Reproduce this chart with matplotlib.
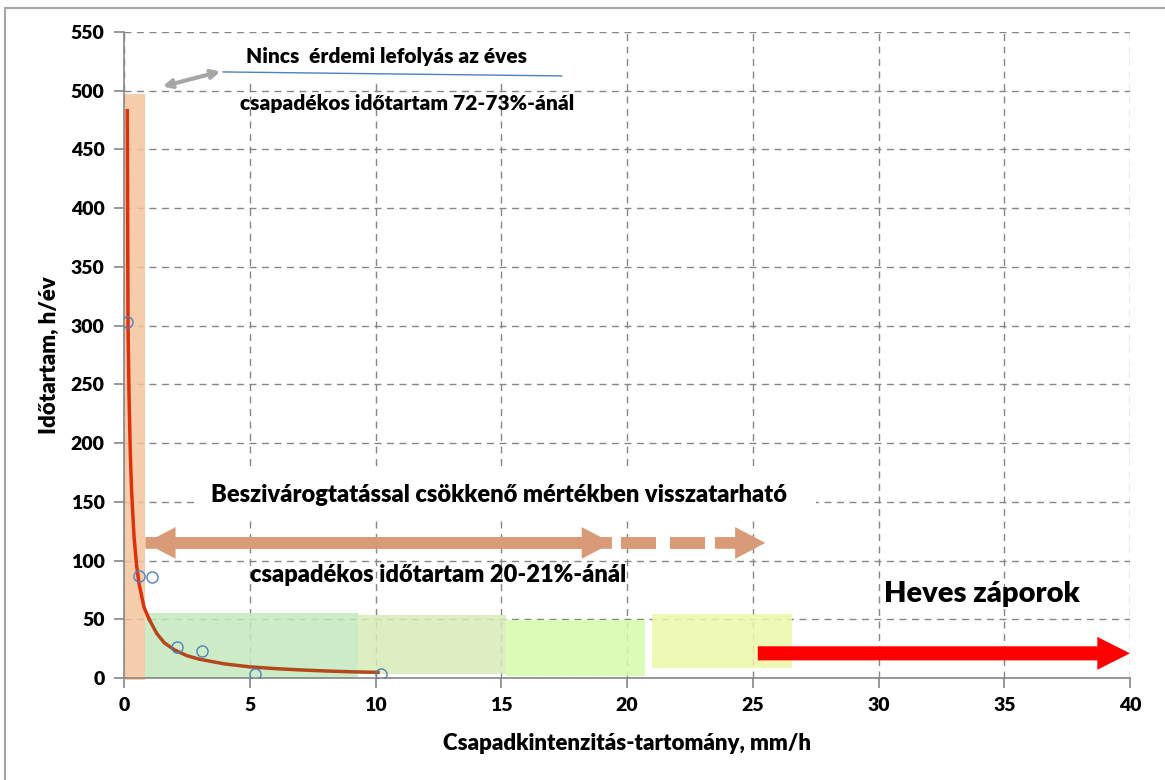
import matplotlib
matplotlib.use("Agg")
import matplotlib.pyplot as plt
from matplotlib.patches import Rectangle, FancyArrow
from matplotlib.lines import Line2D

plt.rcParams['font.family'] = ['Lato', 'DejaVu Sans']
W = 'heavy'

# trend curve (mm/h, h/year)
curve_x = [0.13, 0.16, 0.2, 0.25, 0.3, 0.4, 0.5, 0.6, 0.8, 1.0, 1.3, 1.6, 2.0, 2.5, 3.0, 4.0, 5.0, 6.0, 7.0, 8.0, 9.0, 10.1]
curve_y = [483, 300, 240, 192, 160, 120, 96, 80, 60, 50, 38, 30, 24, 19, 16, 12, 9.5, 8, 6.9, 6, 5.3, 4.8]
red_part = 10  # first points drawn red, rest brown

# measured points
pts_x = [0.12, 0.6, 1.1, 2.1, 3.1, 5.2, 10.2]
pts_y = [303, 87, 86, 26, 23, 3, 3]

# shaded bands: x0, x1, y0, y1
band_x0 = [0.0, 0.85, 9.3, 15.2, 21.0]
band_x1 = [0.85, 9.3, 15.2, 20.7, 26.55]
band_y0 = [-2, 0, 3, 2, 8.5]
band_y1 = [497, 55, 54, 49, 54.5]
band_colors = ['#f6c39d', '#c3e8be', '#d7ebb9', '#d6fbaa', '#ebf8aa']

xticks = list(range(0, 45, 5))
yticks = list(range(0, 600, 50))

fig = plt.figure(figsize=(11.65, 7.8), dpi=100)
ax = fig.add_axes([124 / 1165, 1 - 678 / 780, 1006 / 1165, 646 / 780])

for x0, x1, y0, y1, c in zip(band_x0, band_x1, band_y0, band_y1, band_colors):
    ax.add_patch(Rectangle((x0, y0), x1 - x0, y1 - y0, facecolor=c, edgecolor='none',
                           alpha=0.85, zorder=2, clip_on=False))

# white text boxes that hide the grid
ax.add_patch(Rectangle((1.0, 509), 17.0, 39, facecolor='white', edgecolor='none', zorder=2.5))
ax.add_patch(Rectangle((2.9, 136), 24.6, 40, facecolor='white', edgecolor='none', zorder=2.5))

ax.plot(curve_x[red_part - 1:], curve_y[red_part - 1:], color='#b4481c', lw=2.5, zorder=4)
ax.plot(curve_x[:red_part], curve_y[:red_part], color='#dd300c', lw=2.5, zorder=4)
ax.plot(pts_x, pts_y, 'o', mfc='none', mec='#4f81bd', ms=8, mew=1, zorder=5)

# arrows
tan = '#d99a78'
ax.add_patch(FancyArrow(0.85, 115, 18.55, 0, width=10, head_width=27, head_length=1.2,
                        length_includes_head=True, color=tan, lw=0, zorder=3))
ax.add_patch(FancyArrow(19.4, 115, -18.55, 0, width=10, head_width=27, head_length=1.2,
                        length_includes_head=True, color=tan, lw=0, zorder=3))
ax.add_patch(Rectangle((19.75, 110), 1.4, 10, color=tan, lw=0, zorder=3))
ax.add_patch(Rectangle((21.7, 110), 1.4, 10, color=tan, lw=0, zorder=3))
ax.add_patch(FancyArrow(23.5, 115, 2.0, 0, width=10, head_width=27, head_length=1.2,
                        length_includes_head=True, color=tan, lw=0, zorder=3))
ax.add_patch(FancyArrow(25.2, 21, 14.8, 0, width=12, head_width=28, head_length=1.3,
                        length_includes_head=True, color='#ff0000', lw=0, zorder=4))

ax.annotate('', xy=(1.43, 503), xytext=(3.94, 517),
            arrowprops=dict(arrowstyle='<->,head_length=0.5,head_width=0.25', color='#a6a6a6', lw=3),
            zorder=4)
ax.plot([3.94, 17.4], [516, 512.6], color='#4f81bd', lw=1, zorder=4)

# texts
ax.text(10.45, 523.6, 'Nincs  érdemi lefolyás az éves', ha='center', va='baseline', fontsize=15,
        fontweight=W, zorder=3)
ax.text(11.25, 483.6, 'csapadékos időtartam 72-73%-ánál', ha='center', va='baseline', fontsize=15,
        fontweight=W, zorder=3)
ax.text(14.9, 150, 'Beszivárogtatással csökkenő mértékben visszatarható', ha='center', va='baseline',
        fontsize=17, fontweight=W, zorder=3)
ax.text(12.5, 81.7, 'csapadékos időtartam 20-21%-ánál', ha='center', va='baseline', fontsize=17,
        fontweight=W, zorder=3)
ax.text(34.1, 64.7, 'Heves záporok', ha='center', va='baseline', fontsize=21, fontweight=W, zorder=3)

ax.set_xlim(0, 40)
ax.set_ylim(0, 550)
ax.set_xticks(xticks)
ax.set_yticks(yticks)
ax.grid(True, color='#868686', linestyle=(0, (5, 4)), lw=1)
ax.set_axisbelow(True)
for s in ['top', 'right']:
    ax.spines[s].set_visible(False)
for s in ['left', 'bottom']:
    ax.spines[s].set_color('#868686')
    ax.spines[s].set_linewidth(1.2)
ax.tick_params(direction='out', length=7, color='#868686', width=1.2, labelsize=14, pad=7)
for lab in ax.get_xticklabels() + ax.get_yticklabels():
    lab.set_fontweight(W)

ax.set_xlabel('Csapadkintenzitás-tartomány, mm/h', fontsize=16, fontweight=W)
ax.set_ylabel('Időtartam, h/év', fontsize=16, fontweight=W)
ax.xaxis.set_label_coords(0.5, -0.085)
ax.yaxis.set_label_coords(-0.064, 0.5)

# outer frame
fig.add_artist(Line2D([5 / 1165, 1], [1 - 8 / 780] * 2, transform=fig.transFigure, color='#a6a6a6', lw=1.5))
fig.add_artist(Line2D([5 / 1165] * 2, [0, 1 - 8 / 780], transform=fig.transFigure, color='#a6a6a6', lw=1.5))

fig.savefig('out.png', dpi=100)
